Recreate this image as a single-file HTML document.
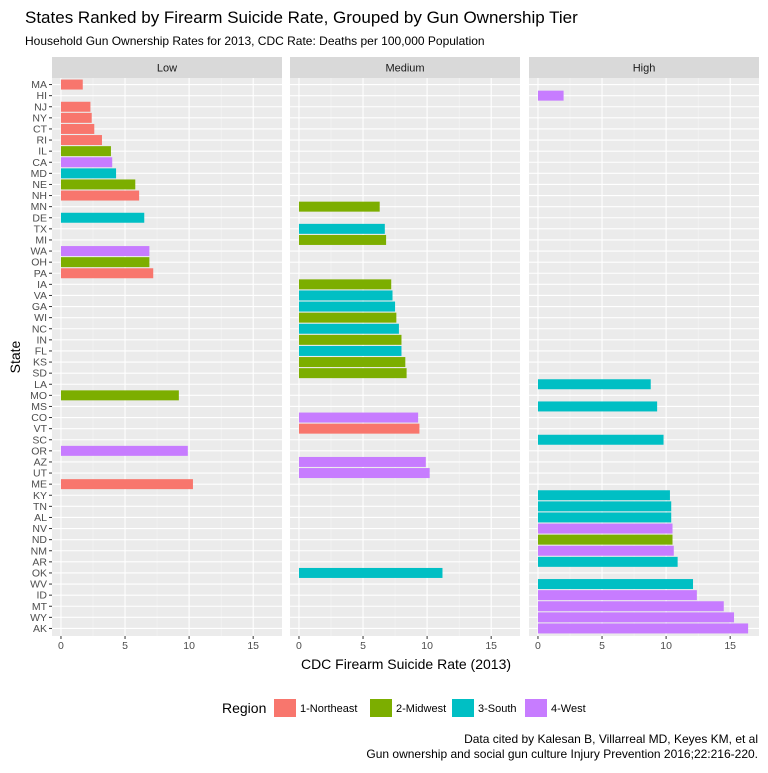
<!DOCTYPE html>
<html><head><meta charset="utf-8"><style>
body{margin:0;background:#fff;font-family:"Liberation Sans",sans-serif;}
</style></head><body>
<svg id="chart" width="768" height="768" xmlns="http://www.w3.org/2000/svg" font-family="Liberation Sans, sans-serif"></svg>
<script>
const states=["MA","HI","NJ","NY","CT","RI","IL","CA","MD","NE","NH","MN","DE","TX","MI","WA","OH","PA","IA","VA","GA","WI","NC","IN","FL","KS","SD","LA","MO","MS","CO","VT","SC","OR","AZ","UT","ME","KY","TN","AL","NV","ND","NM","AR","OK","WV","ID","MT","WY","AK"];
const tiers=["Low","High","Low","Low","Low","Low","Low","Low","Low","Low","Low","Medium","Low","Medium","Medium","Low","Low","Low","Medium","Medium","Medium","Medium","Medium","Medium","Medium","Medium","Medium","High","Low","High","Medium","Medium","High","Low","Medium","Medium","Low","High","High","High","High","High","High","High","Medium","High","High","High","High","High"];
const rates=[1.7,2.0,2.3,2.4,2.6,3.2,3.9,4.0,4.3,5.8,6.1,6.3,6.5,6.7,6.8,6.9,6.9,7.2,7.2,7.3,7.5,7.6,7.8,8.0,8.0,8.3,8.4,8.8,9.2,9.3,9.3,9.4,9.8,9.9,9.9,10.2,10.3,10.3,10.4,10.4,10.5,10.5,10.6,10.9,11.2,12.1,12.4,14.5,15.3,16.4];
const regions=[1,4,1,1,1,1,2,4,3,2,1,2,3,3,2,4,2,1,2,3,3,2,3,2,3,2,2,3,2,3,4,1,3,4,4,4,1,3,3,3,4,2,4,3,3,3,4,4,4,4];
const panelNames=["Low","Medium","High"];
const xTicks=[0,5,10,15];
const regionNames=["1-Northeast","2-Midwest","3-South","4-West"];
const colors=["#F8766D","#7CAE00","#00BFC4","#C77CFF"];

const svg=document.getElementById('chart');
const NS="http://www.w3.org/2000/svg";
function mk(t,a,p){const e=document.createElementNS(NS,t);for(const k in a)e.setAttribute(k,a[k]);(p||svg).appendChild(e);return e;}
const panelX=[52,290,529],panelW=230,plotTop=79,plotBot=634;
const xMin=-0.7,xMax=17.25;
const sx=(i,v)=>panelX[i]+(v-xMin)/(xMax-xMin)*panelW;
const rowH=(plotBot-plotTop)/states.length;
const sy=j=>plotTop+(j+0.5)*rowH;

let t=mk('text',{x:25,y:23,'font-size':17,fill:'#000'});t.textContent="States Ranked by Firearm Suicide Rate, Grouped by Gun Ownership Tier";


t=mk('text',{x:25,y:45,'font-size':12,fill:'#000'});t.textContent="Household Gun Ownership Rates for 2013, CDC Rate: Deaths per 100,000 Population";



panelNames.forEach((pn,i)=>{
  const g=mk('g',{});
  
  
  mk('rect',{x:panelX[i],y:57,width:panelW,height:21,fill:'#D9D9D9'},g);
  const st=mk('text',{x:panelX[i]+panelW/2,y:71.5,'font-size':11,fill:'#1A1A1A','text-anchor':'middle'},g);st.textContent=pn;
  
  
  mk('rect',{x:panelX[i],y:78,width:panelW,height:plotBot+2-78,fill:'#EBEBEB'},g);
  for(let v=2.5;v<17;v+=5)mk('line',{x1:sx(i,v),x2:sx(i,v),y1:78,y2:plotBot+2,stroke:'#F5F5F5','stroke-width':0.6},g);
  xTicks.forEach(v=>{
    mk('line',{x1:sx(i,v),x2:sx(i,v),y1:78,y2:plotBot+2,stroke:'#fff','stroke-width':1.1},g);
    mk('line',{x1:sx(i,v),x2:sx(i,v),y1:plotBot+2,y2:plotBot+5,stroke:'#333'},g);
    const tl=mk('text',{x:sx(i,v),y:plotBot+15,'font-size':10.5,fill:'#4D4D4D','text-anchor':'middle'},g);tl.textContent=v;
  });
  states.forEach((s,j)=>mk('line',{x1:panelX[i],x2:panelX[i]+panelW,y1:sy(j),y2:sy(j),stroke:'#fff','stroke-width':1.1},g));
  states.forEach((s,j)=>{
    if(tiers[j]!==pn)return;
    const b=mk('rect',{x:sx(i,0),y:sy(j)-rowH*0.45,width:sx(i,rates[j])-sx(i,0),height:rowH*0.9,fill:colors[regions[j]-1]},g);
    
    
  });
});
states.forEach((s,j)=>{
  const l=mk('text',{x:47,y:sy(j)+3.5,'font-size':10.5,fill:'#4D4D4D','text-anchor':'end'});l.textContent=s;
  
  
  mk('line',{x1:49,x2:52,y1:sy(j),y2:sy(j),stroke:'#333'});
});
t=mk('text',{x:406,y:669,'font-size':14,fill:'#000','text-anchor':'middle'});t.textContent="CDC Firearm Suicide Rate (2013)";


t=mk('text',{x:20,y:357,'font-size':14,fill:'#000','text-anchor':'middle',transform:'rotate(-90 20 357)'});t.textContent="State";



const lg=mk('g',{});


t=mk('text',{x:222,y:713,'font-size':14,fill:'#000'},lg);t.textContent="Region";
const lx=[274,370,452,525];
regionNames.forEach((r,k)=>{
  const e=mk('g',{},lg);
  
  
  mk('rect',{x:lx[k],y:699,width:22,height:18,fill:colors[k]},e);
  const tt=mk('text',{x:lx[k]+26,y:712,'font-size':11,fill:'#000'},e);tt.textContent=r;
});
t=mk('text',{x:758,y:743,'font-size':12,fill:'#000','text-anchor':'end'});t.textContent="Data cited by Kalesan B, Villarreal MD, Keyes KM, et al";


t=mk('text',{x:758,y:758,'font-size':12,fill:'#000','text-anchor':'end'});t.textContent="Gun ownership and social gun culture Injury Prevention 2016;22:216-220.";


</script>
</body></html>
